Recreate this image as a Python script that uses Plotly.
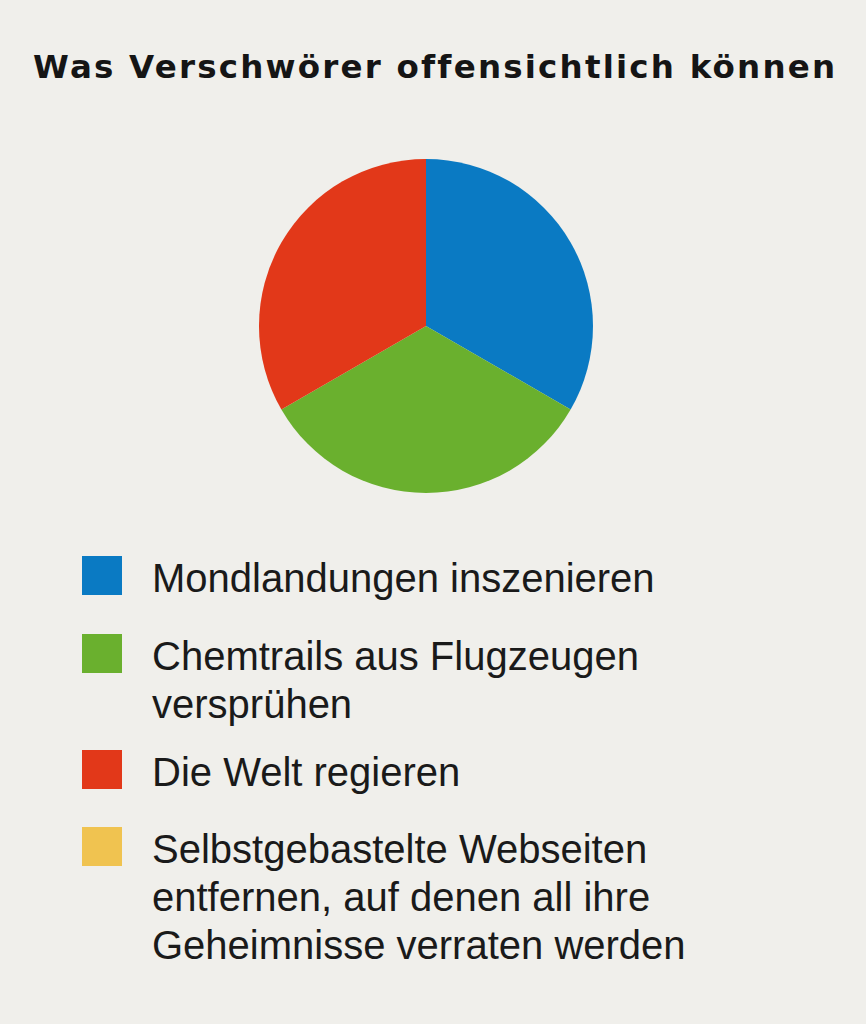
import plotly.graph_objects as go

title_text = "Was Verschwörer offensichtlich können"
labels = [
    "Mondlandungen inszenieren",
    "Chemtrails aus Flugzeugen versprühen",
    "Die Welt regieren",
    "Selbstgebastelte Webseiten entfernen, auf denen all ihre Geheimnisse verraten werden",
]
legend_lines = [
    ["Mondlandungen inszenieren"],
    ["Chemtrails aus Flugzeugen", "versprühen"],
    ["Die Welt regieren"],
    ["Selbstgebastelte Webseiten", "entfernen, auf denen all ihre", "Geheimnisse verraten werden"],
]
values = [1, 1, 1, 0]
colors = ["#0a7ac3", "#6ab02e", "#e23819", "#f0c350"]

W, H = 866, 1024
BG = "#f0efeb"

def px_x(x):
    return x / W

def px_y(y):
    return 1 - y / H

fig = go.Figure()
fig.add_trace(go.Pie(
    labels=labels,
    values=values,
    marker=dict(colors=colors, line=dict(width=0)),
    sort=False,
    direction="clockwise",
    rotation=0,
    textinfo="none",
    hoverinfo="label+percent",
    showlegend=False,
    domain=dict(x=[px_x(426 - 167), px_x(426 + 167)], y=[px_y(493), px_y(159)]),
))

annotations = [dict(
    text='<span style="letter-spacing:2.2px">' + title_text + '</span>',
    x=px_x(435), y=px_y(67), xref="paper", yref="paper",
    xanchor="center", yanchor="middle", showarrow=False,
    font=dict(family="DejaVu Sans", size=32.5, color="#151515", weight="bold"),
)]
shapes = []

square_tops = [556, 634, 750, 827]
line_step = 48
for i, (lines, col) in enumerate(zip(legend_lines, colors)):
    top = square_tops[i]
    shapes.append(dict(
        type="rect", xref="paper", yref="paper",
        x0=px_x(82), x1=px_x(122), y0=px_y(top), y1=px_y(top + 39),
        fillcolor=col, line=dict(width=0),
    ))
    for j, ln in enumerate(lines):
        cy = top + 22 + j * line_step
        annotations.append(dict(
            text=ln, x=px_x(150), y=px_y(cy), xref="paper", yref="paper",
            xanchor="left", yanchor="middle", showarrow=False,
            font=dict(family="Liberation Sans", size=40, color="#1a1a1a"),
        ))

fig.update_layout(
    width=W, height=H,
    margin=dict(l=0, r=0, t=0, b=0),
    paper_bgcolor=BG, plot_bgcolor=BG,
    annotations=annotations, shapes=shapes,
)

fig.write_html("out.html")
